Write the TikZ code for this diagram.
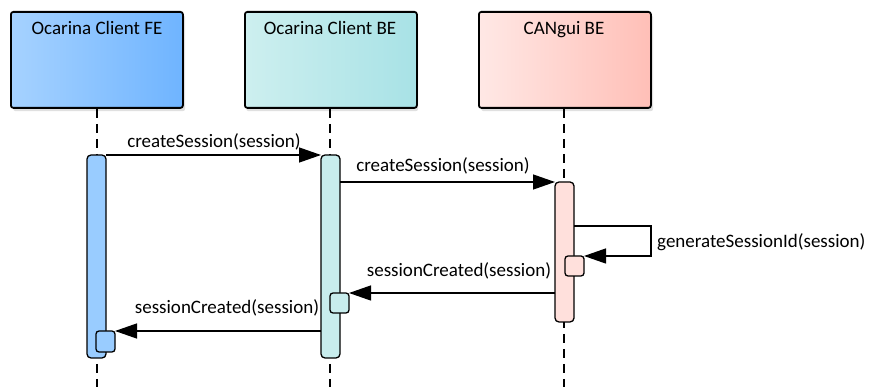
\documentclass[tikz,border=0pt]{standalone}
\usepackage{fontspec}
\setmainfont{Carlito}
\usetikzlibrary{arrows.meta}
\definecolor{feL}{HTML}{A6D2FF}
\definecolor{feR}{HTML}{6FB4FF}
\definecolor{feBar}{HTML}{99CCFF}
\definecolor{beL}{HTML}{CDEFEF}
\definecolor{beR}{HTML}{A8E2E6}
\definecolor{beBar}{HTML}{C8EDED}
\definecolor{caL}{HTML}{FFE8E5}
\definecolor{caR}{HTML}{FFBFB7}
\definecolor{caBar}{HTML}{FFE0DC}
\tikzset{
  x=1pt,y=-1pt,
  every node/.style={font=\fontsize{19}{22}\selectfont, inner sep=0pt},
  head/.style={draw=black, line width=1.8pt, rounded corners=2.5pt, minimum width=172pt, minimum height=96pt, anchor=north west},
  shadowbox/.style={fill=black!12, rounded corners=2.5pt, minimum width=172pt, minimum height=96pt, anchor=north west},
  life/.style={line width=1.3pt, dash pattern=on 9pt off 6pt},
  bar/.style={draw=black, line width=1.3pt, rounded corners=4pt},
  msg/.style={line width=1.3pt, -{Triangle[length=22pt,width=15pt]}},
  lbl/.style={anchor=base},
}
\begin{document}
\begin{tikzpicture}
\useasboundingbox (0,0) rectangle (871,387);
% shadows
\node[shadowbox] at (13,15) {};
\node[shadowbox] at (246,15) {};
\node[shadowbox] at (481,15) {};
% heads
\node[head, left color=feL, right color=feR] (fe) at (10,11) {};
\node[head, left color=beL, right color=beR] (be) at (244,11) {};
\node[head, left color=caL, right color=caR] (ca) at (478,11) {};
\node[anchor=base] (feT) at (97,35) {Ocarina Client FE};
\node[anchor=base] (beT) at (330,35) {Ocarina Client BE};
\node[anchor=base] (caT) at (564,35) {CANgui BE};
% lifelines
\coordinate (feEnd) at (97,387);
\coordinate (beEnd) at (330,387);
\coordinate (caEnd) at (564,387);
\draw[life] (fe.south -| feEnd) -- (feEnd);
\draw[life] (be.south -| beEnd) -- (beEnd);
\draw[life] (ca.south -| caEnd) -- (caEnd);
% activation bars
\draw[bar, fill=feBar] (87,155) rectangle (106,358);
\coordinate (feBarR) at (106,155);
\draw[bar, fill=beBar] (321,155) rectangle (340,358);
\coordinate (beBarL) at (321,155);
\coordinate (beBarR) at (340,182);
\draw[bar, fill=caBar] (555,182) rectangle (574,322);
\coordinate (caBarL) at (555,182);
\coordinate (caBarR) at (574,226);
% small nested boxes
\draw[bar, fill=caBar, rounded corners=3pt] (565,256) rectangle (584,276);
\coordinate (caSmall) at (584,256);
\draw[bar, fill=beBar, rounded corners=3pt] (330,293) rectangle (349,313);
\coordinate (beSmall) at (349,293);
\draw[bar, fill=feBar, rounded corners=3pt] (96,331) rectangle (115,352);
\coordinate (feSmall) at (115,331);
% messages
\draw[msg] (feBarR) -- (beBarL);
\node[lbl] (m1) at (214,148) {createSession(session)};
\draw[msg] (beBarR) -- (caBarL);
\node[lbl] (m2) at (443,172) {createSession(session)};
\coordinate (selfA) at (651,226);
\coordinate (selfB) at (651,256);
\draw[line width=1.3pt, -{Triangle[length=22pt,width=15pt]}] (caBarR) -- (selfA) -- (selfB) -- (caSmall);
\node[anchor=base west] (m3) at (657,248) {generateSessionId(session)};
\coordinate (caRet) at (555,293);
\draw[msg] (caRet) -- (beSmall);
\node[lbl] (m4) at (459,277) {sessionCreated(session)};
\coordinate (beRet) at (321,331);
\draw[msg] (beRet) -- (feSmall);
\node[lbl] (m5) at (227,314) {sessionCreated(session)};
\end{tikzpicture}
\end{document}
